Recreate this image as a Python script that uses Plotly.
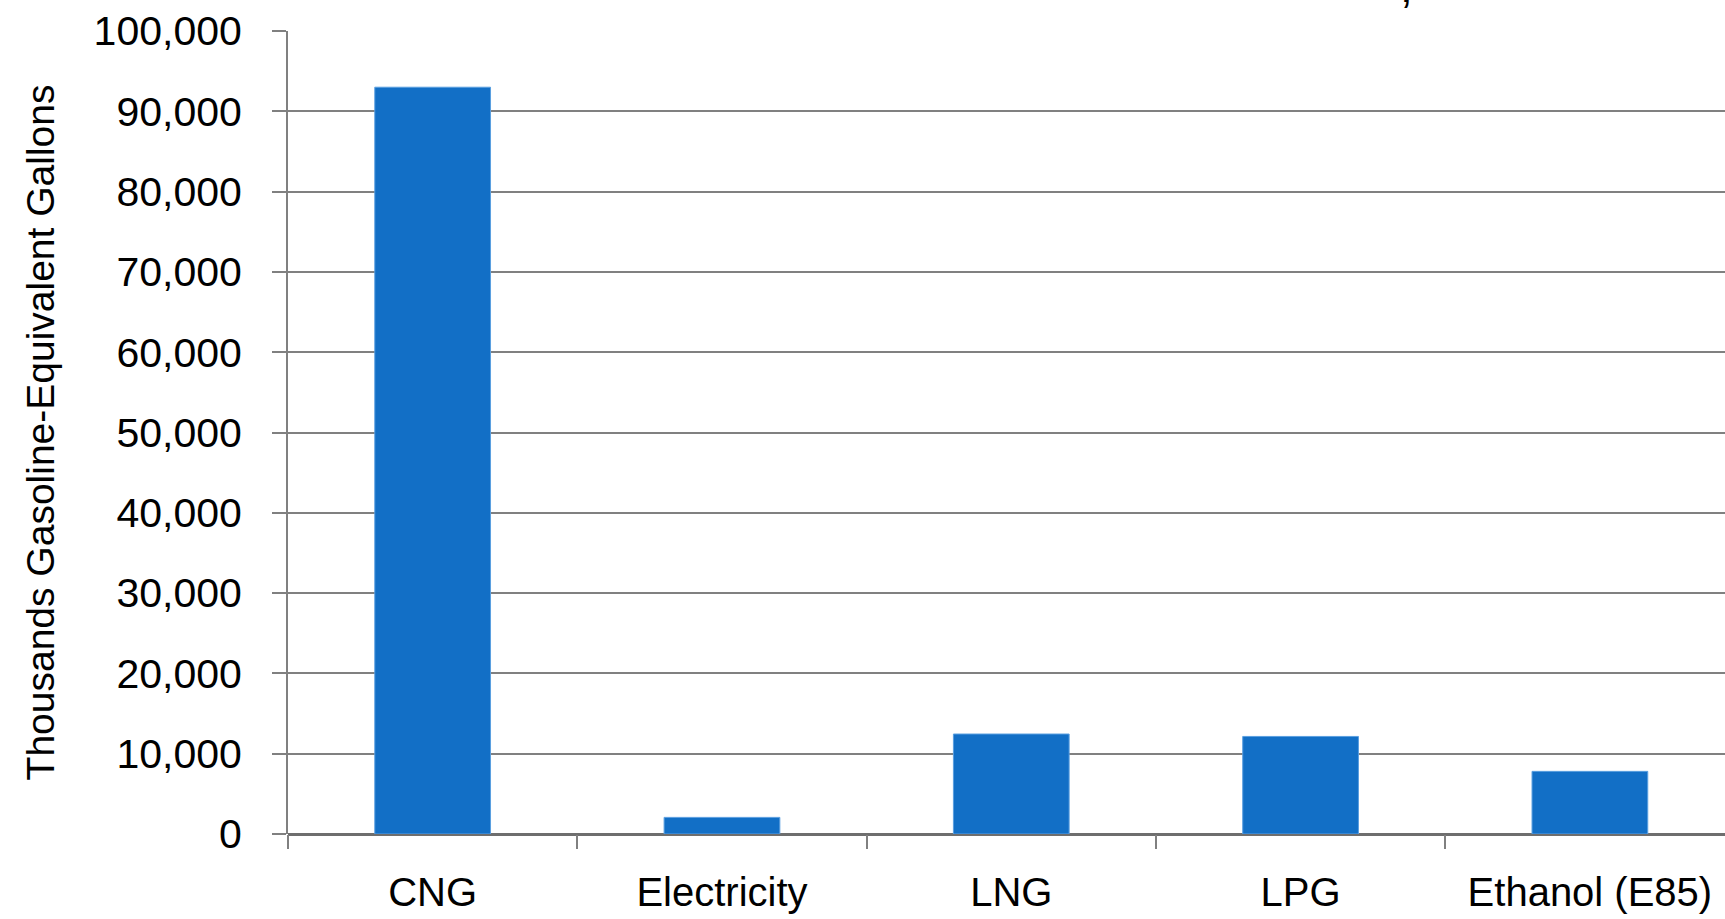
import plotly.graph_objects as go

categories = ["CNG", "Electricity", "LNG", "LPG", "Ethanol (E85)"]
values = [93000, 2070, 12450, 12150, 7800]
y_ticks = list(range(0, 100001, 10000))
y_tick_labels = [f"{v:,}" for v in y_ticks]

FONT = "Liberation Sans Narrow, Arial Narrow, Liberation Sans, Arial, sans-serif"

W, H = 1725, 919
L, T, B = 288, 31, 85

fig = go.Figure(go.Bar(
    x=categories, y=values, width=0.4,
    marker=dict(color="#126fc6", line=dict(color="#5a9fe0", width=1)),
))

fig.update_layout(
    width=W, height=H,
    margin=dict(l=L, r=0, t=T, b=B, pad=0),
    paper_bgcolor="white", plot_bgcolor="white",
    font=dict(family=FONT, color="black", size=40),
    showlegend=False,
)

fig.update_xaxes(
    range=[-0.5, 4.467],
    ticks="outside", tickson="boundaries", ticklen=14, tickwidth=2, tickcolor="#808080",
    showline=False, showgrid=False,
    tickfont=dict(size=40, family=FONT),
    ticklabelstandoff=31,
)
fig.update_yaxes(
    range=[0, 100000],
    tickvals=y_ticks, ticktext=y_tick_labels,
    ticks="outside", ticklen=14, tickwidth=2, tickcolor="#808080",
    showline=True, linecolor="#808080", linewidth=2,
    showgrid=True, gridcolor="#808080", gridwidth=2,
    zeroline=True, zerolinecolor="#6e6e6e", zerolinewidth=3,
    tickfont=dict(size=41, family=FONT),
    ticklabelstandoff=22,
    title=dict(text="Thousands Gasoline-Equivalent Gallons",
               font=dict(size=39, family=FONT), standoff=27),
)

# fragment of cut-off title at top edge
fig.add_annotation(
    xref="paper", yref="paper",
    x=(1406 - L) / (W - L), y=1 + T / (H - T - B),
    text=",", showarrow=False, font=dict(size=46, family=FONT, color="black"),
    xanchor="center", yanchor="bottom", yshift=-14,
)

fig.write_html("out.html")
